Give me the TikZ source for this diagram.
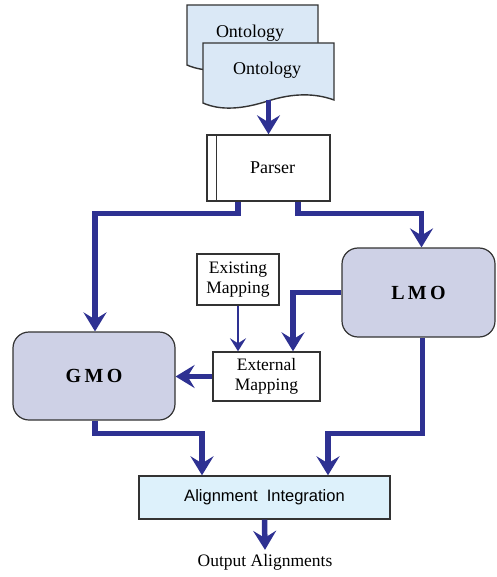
\documentclass[tikz,border=0pt]{standalone}
\usepackage{fontspec}
\setmainfont{Liberation Serif}
\newfontfamily\alignfont{Liberation Sans}
\usetikzlibrary{arrows.meta,calc}
\definecolor{flowblue}{HTML}{2E3192}
\definecolor{docfill}{HTML}{DAE8F6}
\definecolor{modfill}{HTML}{CED1E6}
\definecolor{alignfill}{HTML}{DDF1FB}
\definecolor{edge}{HTML}{333333}
\tikzset{
  flow/.style={draw=flowblue, line width=5.5pt,
    -{Stealth[length=19pt,width=23pt,inset=7pt]}},
  thinflow/.style={draw=flowblue, line width=1.6pt,
    -{Stealth[length=13pt,width=16pt,inset=5pt]}},
  docbox/.style={draw=edge, line width=1.4pt, fill=docfill},
  plainbox/.style={draw=edge, line width=1.4pt, fill=white, align=center,
    inner sep=0pt, font=\fontsize{17.5}{19.5}\selectfont},
  module/.style={draw=edge, line width=1.2pt, fill=modfill, rounded corners=16pt,
    inner sep=0pt, font=\fontsize{20}{24}\selectfont\bfseries},
}
\begin{document}
\begin{tikzpicture}[x=1pt,y=-1pt]
\path[use as bounding box] (0,0) rectangle (496,577);

% two stacked ontology documents
\foreach \dx/\dy in {187/5, 203/43}{
  \draw[docbox, shift={(\dx,\dy)}] (0,0) -- (131,0) -- (131,57)
    .. controls (112,50) and (90,50) .. (65,58)
    .. controls (40,66) and (18,68) .. (0,60) -- cycle;
}
\node[font=\fontsize{18}{21}\selectfont] (ontback) at (250,33) {Ontology};
\node[font=\fontsize{18}{21}\selectfont] (ontfront) at (267,70) {Ontology};
\coordinate (docbot) at (268.5,100);

% parser (predefined process)
\node[plainbox, minimum width=123pt, minimum height=66pt,
      font=\fontsize{18}{21}\selectfont] (parser) at (268.5,168) {\hspace{8pt}Parser};
\draw[edge, line width=1.4pt] ([xshift=10pt]parser.north west) -- ([xshift=10pt]parser.south west);

% matching modules
\node[module, minimum width=162pt, minimum height=88pt] (gmo) at (94,376) {G\,M\,O};
\node[module, minimum width=153pt, minimum height=89pt] (lmo) at (418.5,292.5) {L\,M\,O};

% mapping boxes
\node[plainbox, minimum width=82pt, minimum height=51pt] (exist) at (238,279.5) {Existing\\Mapping};
\node[plainbox, minimum width=107pt, minimum height=49pt] (extern) at (266.5,376.5) {External\\Mapping};

% integration and output
\node[draw=edge, line width=1.4pt, fill=alignfill, minimum width=251pt, minimum height=43pt,
      inner sep=0pt, font=\alignfont\fontsize{16.5}{19}\selectfont] (align) at (264.5,497.5)
      {Alignment\ \ Integration};
\node[inner sep=0pt, font=\fontsize{17.5}{20}\selectfont] (out) at (265,562) {Output Alignments};

% connectors
\draw[flow] (docbot) -- (parser.north);
\draw[flow] ([xshift=-30.5pt]parser.south) -- ++(0,12) -| ([xshift=1pt]gmo.north);
\draw[flow] ([xshift=29.5pt]parser.south) -- ++(0,12) -| ([xshift=3pt]lmo.north);
\draw[flow] (lmo.west) -| ([xshift=26.5pt]extern.north);
\draw[thinflow] (exist.south) -- (exist.south |- extern.north);
\draw[flow] (extern.west) -- (extern.west -| gmo.east);
\draw[flow] ([xshift=1pt]gmo.south) -- ++(0,13) -| ([xshift=-62.5pt]align.north);
\draw[flow] ([xshift=4pt]lmo.south) -- ++(0,96) -| ([xshift=63.5pt]align.north);
\draw[flow] (align.south) -- ([yshift=4pt]out.north);
\end{tikzpicture}
\end{document}
